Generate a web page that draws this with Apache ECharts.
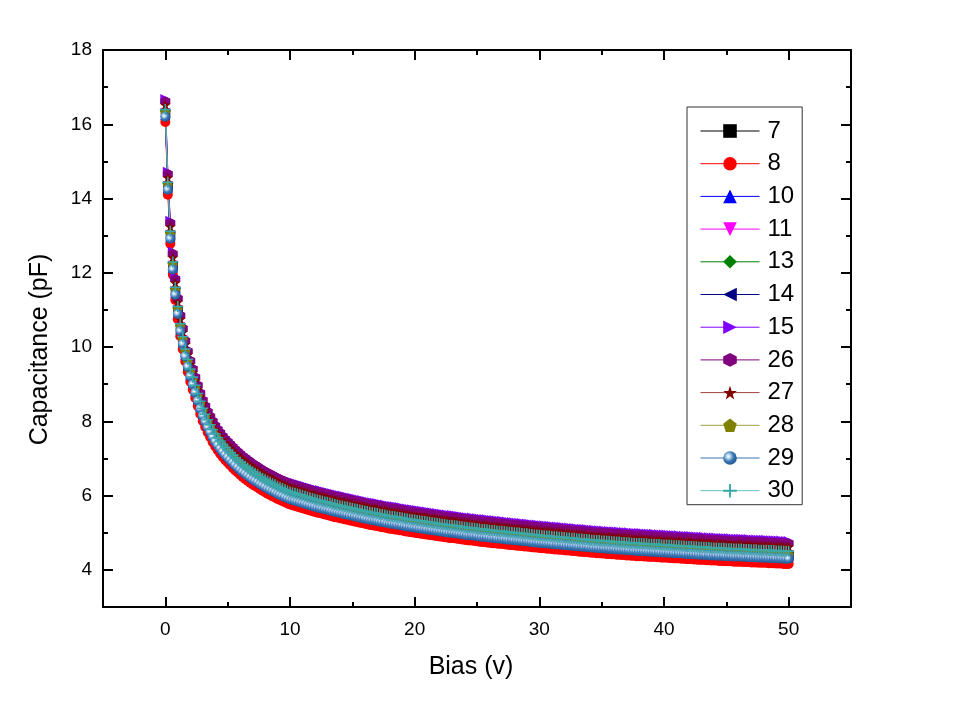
<!DOCTYPE html>
<html>
<head>
<meta charset="utf-8">
<script src="https://cdn.jsdelivr.net/npm/echarts@6/dist/echarts.min.js"></script>
<style>
html,body{margin:0;padding:0;background:#fff;}
#chart{width:956px;height:709px;}
</style>
</head>
<body>
<div id="chart"></div>
<script>
// Bias sweep (V)
const biasV = [
0,0.2,0.4,0.6,0.8,1,1.2,1.4,1.6,1.8,
2,2.2,2.4,2.6,2.8,3,3.2,3.4,3.6,3.8,
4,4.2,4.4,4.6,4.8,5,5.2,5.4,5.6,5.8,
6,6.2,6.4,6.6,6.8,7,7.2,7.4,7.6,7.8,
8,8.2,8.4,8.6,8.8,9,9.2,9.4,9.6,9.8,
10,10.2,10.4,10.6,10.8,11,11.2,11.4,11.6,11.8,
12,12.2,12.4,12.6,12.8,13,13.2,13.4,13.6,13.8,
14,14.2,14.4,14.6,14.8,15,15.2,15.4,15.6,15.8,
16,16.2,16.4,16.6,16.8,17,17.2,17.4,17.6,17.8,
18,18.2,18.4,18.6,18.8,19,19.2,19.4,19.6,19.8,
20,20.2,20.4,20.6,20.8,21,21.2,21.4,21.6,21.8,
22,22.2,22.4,22.6,22.8,23,23.2,23.4,23.6,23.8,
24,24.2,24.4,24.6,24.8,25,25.2,25.4,25.6,25.8,
26,26.2,26.4,26.6,26.8,27,27.2,27.4,27.6,27.8,
28,28.2,28.4,28.6,28.8,29,29.2,29.4,29.6,29.8,
30,30.2,30.4,30.6,30.8,31,31.2,31.4,31.6,31.8,
32,32.2,32.4,32.6,32.8,33,33.2,33.4,33.6,33.8,
34,34.2,34.4,34.6,34.8,35,35.2,35.4,35.6,35.8,
36,36.2,36.4,36.6,36.8,37,37.2,37.4,37.6,37.8,
38,38.2,38.4,38.6,38.8,39,39.2,39.4,39.6,39.8,
40,40.2,40.4,40.6,40.8,41,41.2,41.4,41.6,41.8,
42,42.2,42.4,42.6,42.8,43,43.2,43.4,43.6,43.8,
44,44.2,44.4,44.6,44.8,45,45.2,45.4,45.6,45.8,
46,46.2,46.4,46.6,46.8,47,47.2,47.4,47.6,47.8,
48,48.2,48.4,48.6,48.8,49,49.2,49.4,49.6,49.8,
50];

const c7 = [
16.31,14.35,13.03,12.20,11.52,11.00,10.54,10.19,9.86,9.58,
9.32,9.10,8.88,8.66,8.45,8.26,8.10,7.95,7.82,7.69,
7.57,7.47,7.38,7.29,7.21,7.14,7.07,7.00,6.93,6.87,
6.81,6.75,6.70,6.65,6.60,6.55,6.51,6.47,6.42,6.38,
6.34,6.30,6.27,6.23,6.20,6.16,6.13,6.10,6.07,6.04,
6.01,5.99,5.97,5.95,5.93,5.91,5.89,5.87,5.85,5.83,
5.81,5.79,5.78,5.76,5.74,5.73,5.71,5.69,5.67,5.66,
5.64,5.63,5.61,5.60,5.58,5.57,5.55,5.54,5.52,5.51,
5.49,5.48,5.46,5.45,5.44,5.43,5.41,5.40,5.39,5.37,
5.36,5.35,5.34,5.33,5.32,5.31,5.29,5.28,5.27,5.26,
5.25,5.24,5.23,5.22,5.21,5.20,5.19,5.18,5.17,5.16,
5.15,5.14,5.13,5.12,5.11,5.11,5.10,5.09,5.08,5.07,
5.06,5.05,5.04,5.04,5.03,5.02,5.01,5.00,5.00,4.99,
4.98,4.97,4.97,4.96,4.95,4.95,4.94,4.93,4.92,4.92,
4.91,4.90,4.90,4.89,4.88,4.88,4.87,4.86,4.85,4.85,
4.84,4.83,4.83,4.82,4.82,4.81,4.80,4.80,4.79,4.79,
4.78,4.77,4.77,4.76,4.76,4.75,4.74,4.74,4.73,4.73,
4.72,4.71,4.71,4.70,4.70,4.69,4.69,4.68,4.68,4.67,
4.67,4.66,4.66,4.65,4.65,4.64,4.64,4.63,4.63,4.62,
4.62,4.62,4.61,4.61,4.60,4.60,4.60,4.59,4.59,4.58,
4.58,4.58,4.57,4.57,4.56,4.56,4.56,4.55,4.55,4.54,
4.54,4.54,4.53,4.53,4.52,4.52,4.52,4.51,4.51,4.50,
4.50,4.50,4.49,4.49,4.49,4.48,4.48,4.48,4.47,4.47,
4.47,4.47,4.46,4.46,4.46,4.45,4.45,4.45,4.44,4.44,
4.44,4.44,4.43,4.43,4.43,4.42,4.42,4.42,4.41,4.41,
4.41];

const c8 = [
16.06,14.10,12.78,11.95,11.27,10.75,10.29,9.94,9.61,9.33,
9.07,8.85,8.63,8.41,8.20,8.01,7.85,7.70,7.57,7.44,
7.32,7.22,7.13,7.04,6.96,6.89,6.82,6.75,6.68,6.62,
6.56,6.50,6.45,6.40,6.35,6.30,6.26,6.22,6.17,6.13,
6.09,6.05,6.02,5.98,5.95,5.91,5.88,5.85,5.82,5.79,
5.76,5.74,5.72,5.70,5.68,5.66,5.64,5.62,5.60,5.58,
5.56,5.54,5.53,5.51,5.49,5.48,5.46,5.44,5.42,5.41,
5.39,5.38,5.36,5.35,5.33,5.32,5.30,5.29,5.27,5.26,
5.24,5.23,5.21,5.20,5.19,5.18,5.16,5.15,5.14,5.12,
5.11,5.10,5.09,5.08,5.07,5.06,5.04,5.03,5.02,5.01,
5.00,4.99,4.98,4.97,4.96,4.95,4.94,4.93,4.92,4.91,
4.90,4.89,4.88,4.87,4.86,4.86,4.85,4.84,4.83,4.82,
4.81,4.80,4.79,4.79,4.78,4.77,4.76,4.75,4.75,4.74,
4.73,4.72,4.72,4.71,4.70,4.70,4.69,4.68,4.67,4.67,
4.66,4.65,4.65,4.64,4.63,4.63,4.62,4.61,4.60,4.60,
4.59,4.58,4.58,4.57,4.57,4.56,4.55,4.55,4.54,4.54,
4.53,4.52,4.52,4.51,4.51,4.50,4.49,4.49,4.48,4.48,
4.47,4.46,4.46,4.45,4.45,4.44,4.44,4.43,4.43,4.42,
4.42,4.41,4.41,4.40,4.40,4.39,4.39,4.38,4.38,4.37,
4.37,4.37,4.36,4.36,4.35,4.35,4.35,4.34,4.34,4.33,
4.33,4.33,4.32,4.32,4.31,4.31,4.31,4.30,4.30,4.29,
4.29,4.29,4.28,4.28,4.27,4.27,4.27,4.26,4.26,4.25,
4.25,4.25,4.24,4.24,4.24,4.23,4.23,4.23,4.22,4.22,
4.22,4.22,4.21,4.21,4.21,4.20,4.20,4.20,4.19,4.19,
4.19,4.19,4.18,4.18,4.18,4.17,4.17,4.17,4.16,4.16,
4.16];

const c10 = [
16.25,14.29,12.97,12.14,11.46,10.94,10.48,10.13,9.80,9.52,
9.26,9.04,8.82,8.60,8.39,8.20,8.04,7.89,7.76,7.63,
7.51,7.41,7.32,7.23,7.15,7.08,7.01,6.94,6.87,6.81,
6.75,6.69,6.64,6.59,6.54,6.49,6.45,6.41,6.36,6.32,
6.28,6.24,6.21,6.17,6.14,6.10,6.07,6.04,6.01,5.98,
5.95,5.93,5.91,5.89,5.87,5.85,5.83,5.81,5.79,5.77,
5.75,5.73,5.72,5.70,5.68,5.67,5.65,5.63,5.61,5.60,
5.58,5.57,5.55,5.54,5.52,5.51,5.49,5.48,5.46,5.45,
5.43,5.42,5.40,5.39,5.38,5.37,5.35,5.34,5.33,5.31,
5.30,5.29,5.28,5.27,5.26,5.25,5.23,5.22,5.21,5.20,
5.19,5.18,5.17,5.16,5.15,5.14,5.13,5.12,5.11,5.10,
5.09,5.08,5.07,5.06,5.05,5.05,5.04,5.03,5.02,5.01,
5.00,4.99,4.98,4.98,4.97,4.96,4.95,4.94,4.94,4.93,
4.92,4.91,4.91,4.90,4.89,4.89,4.88,4.87,4.86,4.86,
4.85,4.84,4.84,4.83,4.82,4.82,4.81,4.80,4.79,4.79,
4.78,4.77,4.77,4.76,4.76,4.75,4.74,4.74,4.73,4.73,
4.72,4.71,4.71,4.70,4.70,4.69,4.68,4.68,4.67,4.67,
4.66,4.65,4.65,4.64,4.64,4.63,4.63,4.62,4.62,4.61,
4.61,4.60,4.60,4.59,4.59,4.58,4.58,4.57,4.57,4.56,
4.56,4.56,4.55,4.55,4.54,4.54,4.54,4.53,4.53,4.52,
4.52,4.52,4.51,4.51,4.50,4.50,4.50,4.49,4.49,4.48,
4.48,4.48,4.47,4.47,4.46,4.46,4.46,4.45,4.45,4.44,
4.44,4.44,4.43,4.43,4.43,4.42,4.42,4.42,4.41,4.41,
4.41,4.41,4.40,4.40,4.40,4.39,4.39,4.39,4.38,4.38,
4.38,4.38,4.37,4.37,4.37,4.36,4.36,4.36,4.35,4.35,
4.35];

const c11 = [
16.30,14.34,13.02,12.19,11.51,10.99,10.53,10.18,9.85,9.57,
9.31,9.09,8.87,8.65,8.44,8.25,8.09,7.94,7.81,7.68,
7.56,7.46,7.37,7.28,7.20,7.13,7.06,6.99,6.92,6.86,
6.80,6.74,6.69,6.64,6.59,6.54,6.50,6.46,6.41,6.37,
6.33,6.29,6.26,6.22,6.19,6.15,6.12,6.09,6.06,6.03,
6.00,5.98,5.96,5.94,5.92,5.90,5.88,5.86,5.84,5.82,
5.80,5.78,5.77,5.75,5.73,5.72,5.70,5.68,5.66,5.65,
5.63,5.62,5.60,5.59,5.57,5.56,5.54,5.53,5.51,5.50,
5.48,5.47,5.45,5.44,5.43,5.42,5.40,5.39,5.38,5.36,
5.35,5.34,5.33,5.32,5.31,5.30,5.28,5.27,5.26,5.25,
5.24,5.23,5.22,5.21,5.20,5.19,5.18,5.17,5.16,5.15,
5.14,5.13,5.12,5.11,5.10,5.10,5.09,5.08,5.07,5.06,
5.05,5.04,5.03,5.03,5.02,5.01,5.00,4.99,4.99,4.98,
4.97,4.96,4.96,4.95,4.94,4.94,4.93,4.92,4.91,4.91,
4.90,4.89,4.89,4.88,4.87,4.87,4.86,4.85,4.84,4.84,
4.83,4.82,4.82,4.81,4.81,4.80,4.79,4.79,4.78,4.78,
4.77,4.76,4.76,4.75,4.75,4.74,4.73,4.73,4.72,4.72,
4.71,4.70,4.70,4.69,4.69,4.68,4.68,4.67,4.67,4.66,
4.66,4.65,4.65,4.64,4.64,4.63,4.63,4.62,4.62,4.61,
4.61,4.61,4.60,4.60,4.59,4.59,4.59,4.58,4.58,4.57,
4.57,4.57,4.56,4.56,4.55,4.55,4.55,4.54,4.54,4.53,
4.53,4.53,4.52,4.52,4.51,4.51,4.51,4.50,4.50,4.49,
4.49,4.49,4.48,4.48,4.48,4.47,4.47,4.47,4.46,4.46,
4.46,4.46,4.45,4.45,4.45,4.44,4.44,4.44,4.43,4.43,
4.43,4.43,4.42,4.42,4.42,4.41,4.41,4.41,4.40,4.40,
4.40];

const c13 = [
16.36,14.40,13.08,12.25,11.57,11.05,10.59,10.24,9.91,9.63,
9.37,9.15,8.93,8.71,8.50,8.31,8.15,8.00,7.87,7.74,
7.62,7.52,7.43,7.34,7.26,7.19,7.12,7.05,6.98,6.92,
6.86,6.80,6.75,6.70,6.65,6.60,6.56,6.52,6.47,6.43,
6.39,6.35,6.32,6.28,6.25,6.21,6.18,6.15,6.12,6.09,
6.06,6.04,6.02,6.00,5.98,5.96,5.94,5.92,5.90,5.88,
5.86,5.84,5.83,5.81,5.79,5.78,5.76,5.74,5.72,5.71,
5.69,5.68,5.66,5.65,5.63,5.62,5.60,5.59,5.57,5.56,
5.54,5.53,5.51,5.50,5.49,5.48,5.46,5.45,5.44,5.42,
5.41,5.40,5.39,5.38,5.37,5.36,5.34,5.33,5.32,5.31,
5.30,5.29,5.28,5.27,5.26,5.25,5.24,5.23,5.22,5.21,
5.20,5.19,5.18,5.17,5.16,5.16,5.15,5.14,5.13,5.12,
5.11,5.10,5.09,5.09,5.08,5.07,5.06,5.05,5.05,5.04,
5.03,5.02,5.02,5.01,5.00,5.00,4.99,4.98,4.97,4.97,
4.96,4.95,4.95,4.94,4.93,4.93,4.92,4.91,4.90,4.90,
4.89,4.88,4.88,4.87,4.87,4.86,4.85,4.85,4.84,4.84,
4.83,4.82,4.82,4.81,4.81,4.80,4.79,4.79,4.78,4.78,
4.77,4.76,4.76,4.75,4.75,4.74,4.74,4.73,4.73,4.72,
4.72,4.71,4.71,4.70,4.70,4.69,4.69,4.68,4.68,4.67,
4.67,4.67,4.66,4.66,4.65,4.65,4.65,4.64,4.64,4.63,
4.63,4.63,4.62,4.62,4.61,4.61,4.61,4.60,4.60,4.59,
4.59,4.59,4.58,4.58,4.57,4.57,4.57,4.56,4.56,4.55,
4.55,4.55,4.54,4.54,4.54,4.53,4.53,4.53,4.52,4.52,
4.52,4.52,4.51,4.51,4.51,4.50,4.50,4.50,4.49,4.49,
4.49,4.49,4.48,4.48,4.48,4.47,4.47,4.47,4.46,4.46,
4.46];

const c14 = [
16.28,14.32,13.00,12.17,11.49,10.97,10.51,10.16,9.83,9.55,
9.29,9.07,8.85,8.63,8.42,8.23,8.07,7.92,7.79,7.66,
7.54,7.44,7.35,7.26,7.18,7.11,7.04,6.97,6.90,6.84,
6.78,6.72,6.67,6.62,6.57,6.52,6.48,6.44,6.39,6.35,
6.31,6.27,6.24,6.20,6.17,6.13,6.10,6.07,6.04,6.01,
5.98,5.96,5.94,5.92,5.90,5.88,5.86,5.84,5.82,5.80,
5.78,5.76,5.75,5.73,5.71,5.70,5.68,5.66,5.64,5.63,
5.61,5.60,5.58,5.57,5.55,5.54,5.52,5.51,5.49,5.48,
5.46,5.45,5.43,5.42,5.41,5.40,5.38,5.37,5.36,5.34,
5.33,5.32,5.31,5.30,5.29,5.28,5.26,5.25,5.24,5.23,
5.22,5.21,5.20,5.19,5.18,5.17,5.16,5.15,5.14,5.13,
5.12,5.11,5.10,5.09,5.08,5.08,5.07,5.06,5.05,5.04,
5.03,5.02,5.01,5.01,5.00,4.99,4.98,4.97,4.97,4.96,
4.95,4.94,4.94,4.93,4.92,4.92,4.91,4.90,4.89,4.89,
4.88,4.87,4.87,4.86,4.85,4.85,4.84,4.83,4.82,4.82,
4.81,4.80,4.80,4.79,4.79,4.78,4.77,4.77,4.76,4.76,
4.75,4.74,4.74,4.73,4.73,4.72,4.71,4.71,4.70,4.70,
4.69,4.68,4.68,4.67,4.67,4.66,4.66,4.65,4.65,4.64,
4.64,4.63,4.63,4.62,4.62,4.61,4.61,4.60,4.60,4.59,
4.59,4.59,4.58,4.58,4.57,4.57,4.57,4.56,4.56,4.55,
4.55,4.55,4.54,4.54,4.53,4.53,4.53,4.52,4.52,4.51,
4.51,4.51,4.50,4.50,4.49,4.49,4.49,4.48,4.48,4.47,
4.47,4.47,4.46,4.46,4.46,4.45,4.45,4.45,4.44,4.44,
4.44,4.44,4.43,4.43,4.43,4.42,4.42,4.42,4.41,4.41,
4.41,4.41,4.40,4.40,4.40,4.39,4.39,4.39,4.38,4.38,
4.38];

const c15 = [
16.68,14.72,13.40,12.57,11.89,11.37,10.91,10.56,10.23,9.95,
9.69,9.47,9.25,9.03,8.82,8.63,8.47,8.32,8.19,8.06,
7.94,7.84,7.75,7.66,7.58,7.51,7.44,7.37,7.30,7.24,
7.18,7.12,7.07,7.02,6.97,6.92,6.88,6.84,6.79,6.75,
6.71,6.67,6.64,6.60,6.57,6.53,6.50,6.47,6.44,6.41,
6.38,6.36,6.34,6.32,6.30,6.28,6.26,6.24,6.22,6.20,
6.18,6.16,6.15,6.13,6.11,6.10,6.08,6.06,6.04,6.03,
6.01,6.00,5.98,5.97,5.95,5.94,5.92,5.91,5.89,5.88,
5.86,5.85,5.83,5.82,5.81,5.80,5.78,5.77,5.76,5.74,
5.73,5.72,5.71,5.70,5.69,5.68,5.66,5.65,5.64,5.63,
5.62,5.61,5.60,5.59,5.58,5.57,5.56,5.55,5.54,5.53,
5.52,5.51,5.50,5.49,5.48,5.48,5.47,5.46,5.45,5.44,
5.43,5.42,5.41,5.41,5.40,5.39,5.38,5.37,5.37,5.36,
5.35,5.34,5.34,5.33,5.32,5.32,5.31,5.30,5.29,5.29,
5.28,5.27,5.27,5.26,5.25,5.25,5.24,5.23,5.22,5.22,
5.21,5.20,5.20,5.19,5.19,5.18,5.17,5.17,5.16,5.16,
5.15,5.14,5.14,5.13,5.13,5.12,5.11,5.11,5.10,5.10,
5.09,5.08,5.08,5.07,5.07,5.06,5.06,5.05,5.05,5.04,
5.04,5.03,5.03,5.02,5.02,5.01,5.01,5.00,5.00,4.99,
4.99,4.99,4.98,4.98,4.97,4.97,4.97,4.96,4.96,4.95,
4.95,4.95,4.94,4.94,4.93,4.93,4.93,4.92,4.92,4.91,
4.91,4.91,4.90,4.90,4.89,4.89,4.89,4.88,4.88,4.87,
4.87,4.87,4.86,4.86,4.86,4.85,4.85,4.85,4.84,4.84,
4.84,4.84,4.83,4.83,4.83,4.82,4.82,4.82,4.81,4.81,
4.81,4.81,4.80,4.80,4.80,4.79,4.79,4.79,4.78,4.78,
4.78];

const c26 = [
16.62,14.66,13.34,12.51,11.83,11.31,10.85,10.50,10.17,9.89,
9.63,9.41,9.19,8.97,8.76,8.57,8.41,8.26,8.13,8.00,
7.88,7.78,7.69,7.60,7.52,7.45,7.38,7.31,7.24,7.18,
7.12,7.06,7.01,6.96,6.91,6.86,6.82,6.78,6.73,6.69,
6.65,6.61,6.58,6.54,6.51,6.47,6.44,6.41,6.38,6.35,
6.32,6.30,6.28,6.26,6.24,6.22,6.20,6.18,6.16,6.14,
6.12,6.10,6.09,6.07,6.05,6.04,6.02,6.00,5.98,5.97,
5.95,5.94,5.92,5.91,5.89,5.88,5.86,5.85,5.83,5.82,
5.80,5.79,5.77,5.76,5.75,5.74,5.72,5.71,5.70,5.68,
5.67,5.66,5.65,5.64,5.63,5.62,5.60,5.59,5.58,5.57,
5.56,5.55,5.54,5.53,5.52,5.51,5.50,5.49,5.48,5.47,
5.46,5.45,5.44,5.43,5.42,5.42,5.41,5.40,5.39,5.38,
5.37,5.36,5.35,5.35,5.34,5.33,5.32,5.31,5.31,5.30,
5.29,5.28,5.28,5.27,5.26,5.26,5.25,5.24,5.23,5.23,
5.22,5.21,5.21,5.20,5.19,5.19,5.18,5.17,5.16,5.16,
5.15,5.14,5.14,5.13,5.13,5.12,5.11,5.11,5.10,5.10,
5.09,5.08,5.08,5.07,5.07,5.06,5.05,5.05,5.04,5.04,
5.03,5.02,5.02,5.01,5.01,5.00,5.00,4.99,4.99,4.98,
4.98,4.97,4.97,4.96,4.96,4.95,4.95,4.94,4.94,4.93,
4.93,4.93,4.92,4.92,4.91,4.91,4.91,4.90,4.90,4.89,
4.89,4.89,4.88,4.88,4.87,4.87,4.87,4.86,4.86,4.85,
4.85,4.85,4.84,4.84,4.83,4.83,4.83,4.82,4.82,4.81,
4.81,4.81,4.80,4.80,4.80,4.79,4.79,4.79,4.78,4.78,
4.78,4.78,4.77,4.77,4.77,4.76,4.76,4.76,4.75,4.75,
4.75,4.75,4.74,4.74,4.74,4.73,4.73,4.73,4.72,4.72,
4.72];

const c27 = [
16.52,14.56,13.24,12.41,11.73,11.21,10.75,10.40,10.07,9.79,
9.53,9.31,9.09,8.87,8.66,8.47,8.31,8.16,8.03,7.90,
7.78,7.68,7.59,7.50,7.42,7.35,7.28,7.21,7.14,7.08,
7.02,6.96,6.91,6.86,6.81,6.76,6.72,6.68,6.63,6.59,
6.55,6.51,6.48,6.44,6.41,6.37,6.34,6.31,6.28,6.25,
6.22,6.20,6.18,6.16,6.14,6.12,6.10,6.08,6.06,6.04,
6.02,6.00,5.99,5.97,5.95,5.94,5.92,5.90,5.88,5.87,
5.85,5.84,5.82,5.81,5.79,5.78,5.76,5.75,5.73,5.72,
5.70,5.69,5.67,5.66,5.65,5.64,5.62,5.61,5.60,5.58,
5.57,5.56,5.55,5.54,5.53,5.52,5.50,5.49,5.48,5.47,
5.46,5.45,5.44,5.43,5.42,5.41,5.40,5.39,5.38,5.37,
5.36,5.35,5.34,5.33,5.32,5.32,5.31,5.30,5.29,5.28,
5.27,5.26,5.25,5.25,5.24,5.23,5.22,5.21,5.21,5.20,
5.19,5.18,5.18,5.17,5.16,5.16,5.15,5.14,5.13,5.13,
5.12,5.11,5.11,5.10,5.09,5.09,5.08,5.07,5.06,5.06,
5.05,5.04,5.04,5.03,5.03,5.02,5.01,5.01,5.00,5.00,
4.99,4.98,4.98,4.97,4.97,4.96,4.95,4.95,4.94,4.94,
4.93,4.92,4.92,4.91,4.91,4.90,4.90,4.89,4.89,4.88,
4.88,4.87,4.87,4.86,4.86,4.85,4.85,4.84,4.84,4.83,
4.83,4.83,4.82,4.82,4.81,4.81,4.81,4.80,4.80,4.79,
4.79,4.79,4.78,4.78,4.77,4.77,4.77,4.76,4.76,4.75,
4.75,4.75,4.74,4.74,4.73,4.73,4.73,4.72,4.72,4.71,
4.71,4.71,4.70,4.70,4.70,4.69,4.69,4.69,4.68,4.68,
4.68,4.68,4.67,4.67,4.67,4.66,4.66,4.66,4.65,4.65,
4.65,4.65,4.64,4.64,4.64,4.63,4.63,4.63,4.62,4.62,
4.62];

const c28 = [
16.32,14.36,13.04,12.21,11.53,11.01,10.55,10.20,9.87,9.59,
9.33,9.11,8.89,8.67,8.46,8.27,8.11,7.96,7.83,7.70,
7.58,7.48,7.39,7.30,7.22,7.15,7.08,7.01,6.94,6.88,
6.82,6.76,6.71,6.66,6.61,6.56,6.52,6.48,6.43,6.39,
6.35,6.31,6.28,6.24,6.21,6.17,6.14,6.11,6.08,6.05,
6.02,6.00,5.98,5.96,5.94,5.92,5.90,5.88,5.86,5.84,
5.82,5.80,5.79,5.77,5.75,5.74,5.72,5.70,5.68,5.67,
5.65,5.64,5.62,5.61,5.59,5.58,5.56,5.55,5.53,5.52,
5.50,5.49,5.47,5.46,5.45,5.44,5.42,5.41,5.40,5.38,
5.37,5.36,5.35,5.34,5.33,5.32,5.30,5.29,5.28,5.27,
5.26,5.25,5.24,5.23,5.22,5.21,5.20,5.19,5.18,5.17,
5.16,5.15,5.14,5.13,5.12,5.12,5.11,5.10,5.09,5.08,
5.07,5.06,5.05,5.05,5.04,5.03,5.02,5.01,5.01,5.00,
4.99,4.98,4.98,4.97,4.96,4.96,4.95,4.94,4.93,4.93,
4.92,4.91,4.91,4.90,4.89,4.89,4.88,4.87,4.86,4.86,
4.85,4.84,4.84,4.83,4.83,4.82,4.81,4.81,4.80,4.80,
4.79,4.78,4.78,4.77,4.77,4.76,4.75,4.75,4.74,4.74,
4.73,4.72,4.72,4.71,4.71,4.70,4.70,4.69,4.69,4.68,
4.68,4.67,4.67,4.66,4.66,4.65,4.65,4.64,4.64,4.63,
4.63,4.63,4.62,4.62,4.61,4.61,4.61,4.60,4.60,4.59,
4.59,4.59,4.58,4.58,4.57,4.57,4.57,4.56,4.56,4.55,
4.55,4.55,4.54,4.54,4.53,4.53,4.53,4.52,4.52,4.51,
4.51,4.51,4.50,4.50,4.50,4.49,4.49,4.49,4.48,4.48,
4.48,4.48,4.47,4.47,4.47,4.46,4.46,4.46,4.45,4.45,
4.45,4.45,4.44,4.44,4.44,4.43,4.43,4.43,4.42,4.42,
4.42];

const c29 = [
16.20,14.24,12.92,12.09,11.41,10.89,10.43,10.08,9.75,9.47,
9.21,8.99,8.77,8.55,8.34,8.15,7.99,7.84,7.71,7.58,
7.46,7.36,7.27,7.18,7.10,7.03,6.96,6.89,6.82,6.76,
6.70,6.64,6.59,6.54,6.49,6.44,6.40,6.36,6.31,6.27,
6.23,6.19,6.16,6.12,6.09,6.05,6.02,5.99,5.96,5.93,
5.90,5.88,5.86,5.84,5.82,5.80,5.78,5.76,5.74,5.72,
5.70,5.68,5.67,5.65,5.63,5.62,5.60,5.58,5.56,5.55,
5.53,5.52,5.50,5.49,5.47,5.46,5.44,5.43,5.41,5.40,
5.38,5.37,5.35,5.34,5.33,5.32,5.30,5.29,5.28,5.26,
5.25,5.24,5.23,5.22,5.21,5.20,5.18,5.17,5.16,5.15,
5.14,5.13,5.12,5.11,5.10,5.09,5.08,5.07,5.06,5.05,
5.04,5.03,5.02,5.01,5.00,5.00,4.99,4.98,4.97,4.96,
4.95,4.94,4.93,4.93,4.92,4.91,4.90,4.89,4.89,4.88,
4.87,4.86,4.86,4.85,4.84,4.84,4.83,4.82,4.81,4.81,
4.80,4.79,4.79,4.78,4.77,4.77,4.76,4.75,4.74,4.74,
4.73,4.72,4.72,4.71,4.71,4.70,4.69,4.69,4.68,4.68,
4.67,4.66,4.66,4.65,4.65,4.64,4.63,4.63,4.62,4.62,
4.61,4.60,4.60,4.59,4.59,4.58,4.58,4.57,4.57,4.56,
4.56,4.55,4.55,4.54,4.54,4.53,4.53,4.52,4.52,4.51,
4.51,4.51,4.50,4.50,4.49,4.49,4.49,4.48,4.48,4.47,
4.47,4.47,4.46,4.46,4.45,4.45,4.45,4.44,4.44,4.43,
4.43,4.43,4.42,4.42,4.41,4.41,4.41,4.40,4.40,4.39,
4.39,4.39,4.38,4.38,4.38,4.37,4.37,4.37,4.36,4.36,
4.36,4.36,4.35,4.35,4.35,4.34,4.34,4.34,4.33,4.33,
4.33,4.33,4.32,4.32,4.32,4.31,4.31,4.31,4.30,4.30,
4.30];

const c30 = [
16.40,14.44,13.12,12.29,11.61,11.09,10.63,10.28,9.95,9.67,
9.41,9.19,8.97,8.75,8.54,8.35,8.19,8.04,7.91,7.78,
7.66,7.56,7.47,7.38,7.30,7.23,7.16,7.09,7.02,6.96,
6.90,6.84,6.79,6.74,6.69,6.64,6.60,6.56,6.51,6.47,
6.43,6.39,6.36,6.32,6.29,6.25,6.22,6.19,6.16,6.13,
6.10,6.08,6.06,6.04,6.02,6.00,5.98,5.96,5.94,5.92,
5.90,5.88,5.87,5.85,5.83,5.82,5.80,5.78,5.76,5.75,
5.73,5.72,5.70,5.69,5.67,5.66,5.64,5.63,5.61,5.60,
5.58,5.57,5.55,5.54,5.53,5.52,5.50,5.49,5.48,5.46,
5.45,5.44,5.43,5.42,5.41,5.40,5.38,5.37,5.36,5.35,
5.34,5.33,5.32,5.31,5.30,5.29,5.28,5.27,5.26,5.25,
5.24,5.23,5.22,5.21,5.20,5.20,5.19,5.18,5.17,5.16,
5.15,5.14,5.13,5.13,5.12,5.11,5.10,5.09,5.09,5.08,
5.07,5.06,5.06,5.05,5.04,5.04,5.03,5.02,5.01,5.01,
5.00,4.99,4.99,4.98,4.97,4.97,4.96,4.95,4.94,4.94,
4.93,4.92,4.92,4.91,4.91,4.90,4.89,4.89,4.88,4.88,
4.87,4.86,4.86,4.85,4.85,4.84,4.83,4.83,4.82,4.82,
4.81,4.80,4.80,4.79,4.79,4.78,4.78,4.77,4.77,4.76,
4.76,4.75,4.75,4.74,4.74,4.73,4.73,4.72,4.72,4.71,
4.71,4.71,4.70,4.70,4.69,4.69,4.69,4.68,4.68,4.67,
4.67,4.67,4.66,4.66,4.65,4.65,4.65,4.64,4.64,4.63,
4.63,4.63,4.62,4.62,4.61,4.61,4.61,4.60,4.60,4.59,
4.59,4.59,4.58,4.58,4.58,4.57,4.57,4.57,4.56,4.56,
4.56,4.56,4.55,4.55,4.55,4.54,4.54,4.54,4.53,4.53,
4.53,4.53,4.52,4.52,4.52,4.51,4.51,4.51,4.50,4.50,
4.50];

const seriesNames = ['7','8','10','11','13','14','15','26','27','28','29','30'];
const xTickValues = [0,10,20,30,40,50];
const yTickValues = [4,6,8,10,12,14,16,18];

const FONT = 'Liberation Sans, Arial, sans-serif';
const SYM = {
  down: 'path://M0,0L10,0L5,10Z',
  left: 'path://M10,0L0,5L10,10Z',
  right: 'path://M0,0L10,5L0,10Z',
  hex: 'path://M5,0L9.33,2.5L9.33,7.5L5,10L0.67,7.5L0.67,2.5Z',
  star: 'path://M5,0L6.18,3.38L9.76,3.45L6.9,5.62L7.94,9.05L5,7L2.06,9.05L3.1,5.62L0.24,3.45L3.82,3.38Z',
  pent: 'path://M5,0L9.76,3.45L7.94,9.05L2.06,9.05L0.24,3.45Z',
  cross: 'path://M4.3,0H5.7V4.3H10V5.7H5.7V10H4.3V5.7H0V4.3H4.3Z'
};
const sphere = {type:'radial', x:0.38, y:0.38, r:0.62, colorStops:[
  {offset:0, color:'#ffffff'}, {offset:0.25, color:'#b8d4ee'},
  {offset:0.6, color:'#3b77b5'}, {offset:1, color:'#235a92'}]};

const styles = [
  {data:c7,  color:'#000000', line:'#000000', symbol:'rect', size:9},
  {data:c8,  color:'#ff0000', line:'#ff0000', symbol:'circle', size:10},
  {data:c10, color:'#0000ff', line:'#0000ff', symbol:'triangle', size:10},
  {data:c11, color:'#ff00ff', line:'#ff00ff', symbol:SYM.down, size:10},
  {data:c13, color:'#008000', line:'#008000', symbol:'diamond', size:11},
  {data:c14, color:'#000080', line:'#000080', symbol:SYM.left, size:10},
  {data:c15, color:'#8000ff', line:'#8000ff', symbol:SYM.right, size:10},
  {data:c26, color:'#800080', line:'#800080', symbol:SYM.hex, size:10},
  {data:c27, color:'#800000', line:'#a04040', symbol:SYM.star, size:11},
  {data:c28, color:'#808000', line:'#a0a040', symbol:SYM.pent, size:10},
  {data:c29, color:sphere,    line:'#3a72b8', symbol:'circle', size:10},
  {data:c30, color:'#3aa8a8', line:'#60c0c0', symbol:SYM.cross, size:11}
];

const series = seriesNames.map((name, k) => ({
  name: name,
  type: 'line',
  xAxisIndex: 0, yAxisIndex: 0,
  data: biasV.map((v, i) => [v, styles[k].data[i]]),
  symbol: styles[k].symbol,
  symbolSize: styles[k].size,
  showAllSymbol: true,
  itemStyle: {color: styles[k].color, borderWidth: 0},
  lineStyle: {color: styles[k].line, width: 1},
  emphasis: {disabled: true},
  silent: true,
  animation: false
}));

const axisLineStyle = {color:'#000', width:2};
const chart = echarts.init(document.getElementById('chart'), null, {renderer:'canvas'});
chart.setOption({
  backgroundColor: '#ffffff',
  animation: false,
  textStyle: {fontFamily: FONT},
  grid: [
    {left:103, right:105, top:50, bottom:102},
    {left:103 + 748/12, right:105, top:50, bottom:102},
    {left:103, right:105, top:50, bottom:102 + 557/15}
  ],
  xAxis: [
    {type:'value', gridIndex:0, position:'bottom', min:-5, max:55, interval:5,
     axisLine:{show:true, onZero:false, lineStyle:axisLineStyle},
     axisTick:{show:true, inside:true, length:5, lineStyle:axisLineStyle},
     axisLabel:{show:true, margin:13, fontSize:19, color:'#000', fontFamily:FONT,
       formatter: v => (xTickValues.indexOf(v) >= 0 ? String(v) : '')},
     splitLine:{show:false},
     name:'Bias (v)', nameLocation:'middle', nameGap:48,
     nameTextStyle:{fontSize:25, color:'#000', fontFamily:FONT, padding:[0,12,0,0]}},
    {type:'value', gridIndex:0, position:'top', min:-5, max:55, interval:5,
     axisLine:{show:true, onZero:false, lineStyle:axisLineStyle},
     axisTick:{show:true, inside:true, length:5, lineStyle:axisLineStyle},
     axisLabel:{show:false}, splitLine:{show:false}},
    {type:'value', gridIndex:1, position:'bottom', min:0, max:55, interval:10,
     axisLine:{show:false, onZero:false},
     axisTick:{show:true, inside:true, length:10, lineStyle:axisLineStyle},
     axisLabel:{show:false}, splitLine:{show:false}},
    {type:'value', gridIndex:1, position:'top', min:0, max:55, interval:10,
     axisLine:{show:false, onZero:false},
     axisTick:{show:true, inside:true, length:10, lineStyle:axisLineStyle},
     axisLabel:{show:false}, splitLine:{show:false}},
    {type:'value', gridIndex:2, min:-5, max:55, show:false}
  ],
  yAxis: [
    {type:'value', gridIndex:0, position:'left', min:3, max:18, interval:1,
     axisLine:{show:true, onZero:false, lineStyle:axisLineStyle},
     axisTick:{show:true, inside:true, length:5, lineStyle:axisLineStyle},
     axisLabel:{show:true, margin:11, fontSize:19, color:'#000', fontFamily:FONT,
       formatter: v => (yTickValues.indexOf(v) >= 0 ? String(v) : '')},
     splitLine:{show:false},
     name:'Capacitance (pF)', nameLocation:'middle', nameGap:50, nameRotate:90,
     nameTextStyle:{fontSize:25, color:'#000', fontFamily:FONT, padding:[0,42,0,0]}},
    {type:'value', gridIndex:0, position:'right', min:3, max:18, interval:1,
     axisLine:{show:true, onZero:false, lineStyle:axisLineStyle},
     axisTick:{show:true, inside:true, length:5, lineStyle:axisLineStyle},
     axisLabel:{show:false}, splitLine:{show:false}},
    {type:'value', gridIndex:1, min:3, max:18, show:false},
    {type:'value', gridIndex:2, position:'left', min:4, max:18, interval:2,
     axisLine:{show:false, onZero:false},
     axisTick:{show:true, inside:true, length:10, lineStyle:axisLineStyle},
     axisLabel:{show:false}, splitLine:{show:false}},
    {type:'value', gridIndex:2, position:'right', min:4, max:18, interval:2,
     axisLine:{show:false, onZero:false},
     axisTick:{show:true, inside:true, length:10, lineStyle:axisLineStyle},
     axisLabel:{show:false}, splitLine:{show:false}}
  ],
  legend: {
    data: seriesNames,
    orient: 'vertical',
    left: 687, top: 107,
    itemWidth: 59, itemHeight: 17, itemGap: 6.7,
    padding: [11, 8, 1, 13],
    borderColor: '#333', borderWidth: 1,
    selectedMode: false,
    lineStyle: {width: 1},
    textStyle: {fontSize: 24, color: '#000', fontFamily: FONT, lineHeight: 26, padding:[0,0,0,3]}
  },
  series: series
});
</script>
</body>
</html>
